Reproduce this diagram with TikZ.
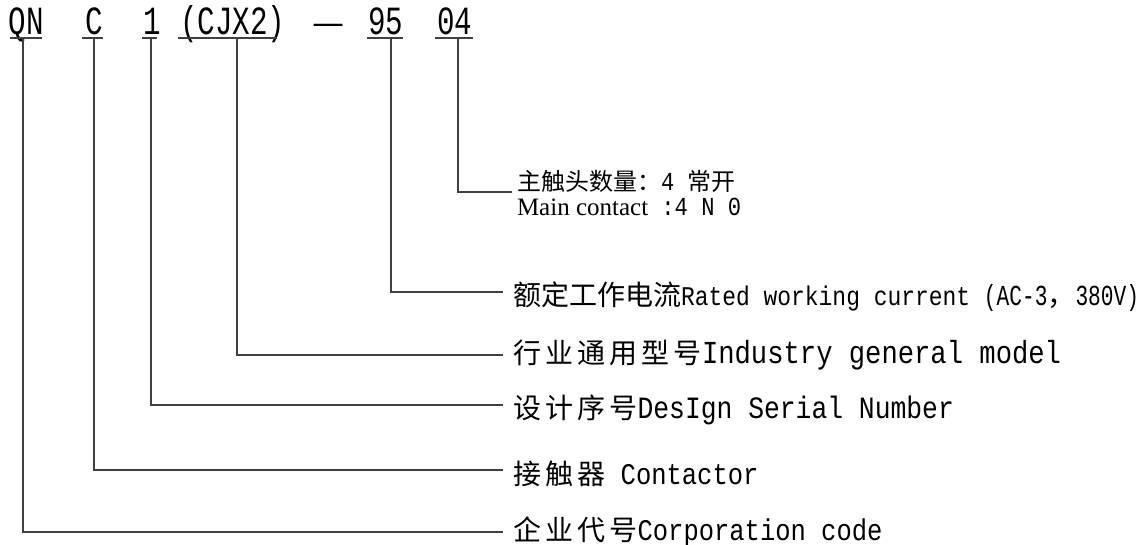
\documentclass[tikz,border=0pt]{standalone}
\usepackage{fontspec}
\setmainfont{Liberation Serif}
\newfontfamily\cjk{Noto Sans CJK SC}
\newfontfamily\cjksp[LetterSpace=15]{Noto Sans CJK SC}
\newfontfamily\lat[FakeStretch=0.85]{Liberation Mono}
\newfontfamily\latn[FakeStretch=0.73]{Liberation Mono}
\newcommand\fs[1]{\fontsize{#1}{#1}\selectfont}
\tikzset{
  lbl/.style={anchor=base west, inner sep=0pt, outer sep=0pt},
  tok/.style={anchor=base west, inner sep=0pt, outer sep=0pt, font=\latn\fs{40}},
  conn/.style={line width=1.3pt, draw=black!75},
  uline/.style={line width=1.3pt, draw=black!75}
}
\begin{document}
\begin{tikzpicture}[x=1pt,y=-1pt]
\useasboundingbox (0,0) rectangle (1142,545);
% top code tokens
\node[tok] (t1) at (9,35) {QN};
\node[tok] (t2) at (85,35) {C};
\node[tok] (t3) at (143,35) {1};
\node[tok] (t4) at (180,35) {(CJX2)};
\node[tok, font=\cjk\fs{36}] (t5) at (312,36) {—};
\node[tok] (t6) at (368,35) {95};
\node[tok] (t7) at (437,35) {04};
% underlines
\draw[uline] (10,38) -- (42,38);
\draw[uline] (82,38) -- (103,38);
\draw[uline] (142,38) -- (157,38);
\draw[uline] (178,38) -- (277,38);
\draw[uline] (367,38) -- (403,38);
\draw[uline] (435,38) -- (473,38);
% tick starts
\coordinate (k1) at (23,38);
\coordinate (k2) at (94,38);
\coordinate (k3) at (151,38);
\coordinate (k4) at (237,38);
\coordinate (k6) at (391,38);
\coordinate (k7) at (458,38);
% labels
\node[lbl] (l1) at (517,190.5) {{\cjk\fs{24}主触头数量：}{\lat\fs{26}4 }{\cjk\fs{24}常开}};
\node[lbl] (l1b) at (517,216) {{\fs{25}Main contact}{\lat\fs{26} :4 N 0}};
\node[lbl] (l2) at (513,305) {{\cjk\fs{28}额定工作电流}{\lat\fs{27}Rated working current }{\latn\fs{29}(AC-3}{\cjk\fs{28}，}{\latn\fs{29}380V)}};
\node[lbl] (l3) at (513,363) {{\cjksp\fs{28}行业通用型号}{\lat\fs{32}Industry general model}};
\node[lbl] (l4) at (513,418) {{\cjksp\fs{28}设计序号}{\lat\fs{31}DesIgn Serial Number}};
\node[lbl] (l5) at (513,484) {{\cjksp\fs{28}接触器}{\lat\fs{30} Contactor}};
\node[lbl] (l6) at (513,540) {{\cjksp\fs{28}企业代号}{\lat\fs{30}Corporation code}};
% connectors
\draw[conn] (k7) |- ([xshift=-5pt,yshift=-1.5pt]l1.base west);
\draw[conn] (k6) |- ([xshift=-10pt,yshift=13pt]l2.base west);
\draw[conn] (k4) |- ([xshift=-10pt,yshift=8pt]l3.base west);
\draw[conn] (k3) |- ([xshift=-10pt,yshift=13pt]l4.base west);
\draw[conn] (k2) |- ([xshift=-10pt,yshift=14pt]l5.base west);
\draw[conn] (k1) |- ([xshift=-10pt,yshift=8pt]l6.base west);
\end{tikzpicture}
\end{document}
